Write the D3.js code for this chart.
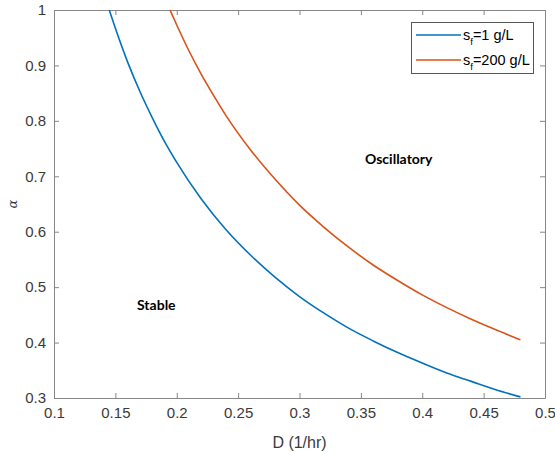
<!DOCTYPE html>
<html>
<head>
<meta charset="utf-8">
<script src="https://cdn.jsdelivr.net/npm/d3@7"></script>
<style>
  html, body { margin: 0; padding: 0; background: #fff; }
  svg { display: block; }
</style>
</head>
<body>
<svg id="chart" width="555" height="452"></svg>
<script>
// Stability boundary alpha(D) for two feed concentrations
const dilution1 = [0.145, 0.15, 0.16, 0.17, 0.18, 0.19, 0.20, 0.22, 0.24, 0.26, 0.28, 0.30, 0.32, 0.34, 0.36, 0.38, 0.40, 0.42, 0.44, 0.46, 0.48];
const alpha1    = [1.000, 0.967, 0.906, 0.853, 0.806, 0.763, 0.725, 0.659, 0.604, 0.558, 0.518, 0.483, 0.453, 0.426, 0.403, 0.382, 0.363, 0.345, 0.330, 0.315, 0.302];

const dilution200 = [0.1945, 0.20, 0.21, 0.22, 0.23, 0.24, 0.26, 0.28, 0.30, 0.32, 0.34, 0.36, 0.38, 0.40, 0.42, 0.44, 0.46, 0.48];
const alpha200    = [1.000, 0.973, 0.926, 0.884, 0.846, 0.810, 0.748, 0.695, 0.648, 0.608, 0.572, 0.540, 0.512, 0.486, 0.463, 0.442, 0.423, 0.405];

const xTicks = [0.1, 0.15, 0.2, 0.25, 0.3, 0.35, 0.4, 0.45, 0.5];
const yTicks = [0.3, 0.4, 0.5, 0.6, 0.7, 0.8, 0.9, 1];

const seriesNames = ["1 g/L", "200 g/L"];
const seriesColors = ["#0072BD", "#D95319"];

const svg = d3.select("#chart");
const plotLeft = 54, plotRight = 545, plotTop = 10, plotBottom = 398;

const x = d3.scaleLinear().domain([0.1, 0.5]).range([plotLeft, plotRight]);
const y = d3.scaleLinear().domain([0.3, 1]).range([plotBottom, plotTop]);

const axisColor = "#868686";
const textColor = "#3a3a3a";
const tickFont = "Liberation Sans, Arial, sans-serif";

// axes box with inward ticks on all four sides
function styleAxis(g) {
  g.select(".domain").attr("stroke", axisColor).attr("stroke-width", 1);
  g.selectAll(".tick line").attr("stroke", axisColor).attr("stroke-width", 1);
  g.selectAll(".tick text").attr("fill", textColor)
    .style("font-family", tickFont).style("font-size", "15px");
}

const fmt = d => String(+d.toFixed(2));

svg.append("g").attr("transform", `translate(0,${plotBottom})`)
  .call(d3.axisBottom(x).tickValues(xTicks).tickFormat(fmt).tickSizeInner(-5).tickSizeOuter(0).tickPadding(9))
  .call(styleAxis);
svg.append("g").attr("transform", `translate(0,${plotTop})`)
  .call(d3.axisTop(x).tickValues(xTicks).tickFormat("").tickSizeInner(-5).tickSizeOuter(0))
  .call(styleAxis);
svg.append("g").attr("transform", `translate(${plotLeft},0)`)
  .call(d3.axisLeft(y).tickValues(yTicks).tickFormat(fmt).tickSizeInner(-5).tickSizeOuter(0).tickPadding(8))
  .call(styleAxis);
svg.append("g").attr("transform", `translate(${plotRight},0)`)
  .call(d3.axisRight(y).tickValues(yTicks).tickFormat("").tickSizeInner(-5).tickSizeOuter(0))
  .call(styleAxis);

// axis labels
svg.append("text")
  .attr("x", (plotLeft + plotRight) / 2).attr("y", 448)
  .attr("text-anchor", "middle")
  .attr("fill", textColor)
  .style("font-family", tickFont).style("font-size", "16px")
  .text("D (1/hr)");

svg.append("text")
  .attr("transform", `translate(17,${(plotTop + plotBottom) / 2}) rotate(-90)`)
  .attr("text-anchor", "middle")
  .attr("fill", textColor)
  .style("font-family", "DejaVu Serif, serif").style("font-style", "italic").style("font-size", "13px")
  .text("α");

// boundary curves
const line = d3.line().x(d => x(d[0])).y(d => y(d[1])).curve(d3.curveMonotoneX);
const series = [
  d3.zip(dilution1, alpha1),
  d3.zip(dilution200, alpha200)
];
series.forEach((pts, i) => {
  svg.append("path")
    .datum(pts)
    .attr("fill", "none")
    .attr("stroke", seriesColors[i])
    .attr("stroke-width", 1.6)
    .attr("d", line);
});

// region annotations
const noteFont = "Lato, 'Open Sans', sans-serif";
svg.append("text").attr("x", 365).attr("y", 164)
  .attr("fill", "#000").style("font-family", noteFont).style("font-weight", "bold").style("font-size", "14px")
  .text("Oscillatory");
svg.append("text").attr("x", 137).attr("y", 310)
  .attr("fill", "#000").style("font-family", noteFont).style("font-weight", "bold").style("font-size", "14px")
  .text("Stable");

// legend
const lg = svg.append("g");
lg.append("rect")
  .attr("x", 411.5).attr("y", 22.5).attr("width", 122).attr("height", 51)
  .attr("fill", "#fff").attr("stroke", "#555").attr("stroke-width", 1);
seriesNames.forEach((name, i) => {
  const ly = 35 + i * 25;
  lg.append("line")
    .attr("x1", 416).attr("x2", 461).attr("y1", ly).attr("y2", ly)
    .attr("stroke", seriesColors[i]).attr("stroke-width", 1.6);
  const t = lg.append("text")
    .attr("x", 463).attr("y", ly + 5)
    .attr("fill", "#000")
    .style("font-family", tickFont).style("font-size", "14.5px");
  t.append("tspan").text("s");
  t.append("tspan").attr("dy", 5).style("font-size", "9.5px").text("f");
  t.append("tspan").attr("dy", -5).text("=" + name);
});
</script>
</body>
</html>
